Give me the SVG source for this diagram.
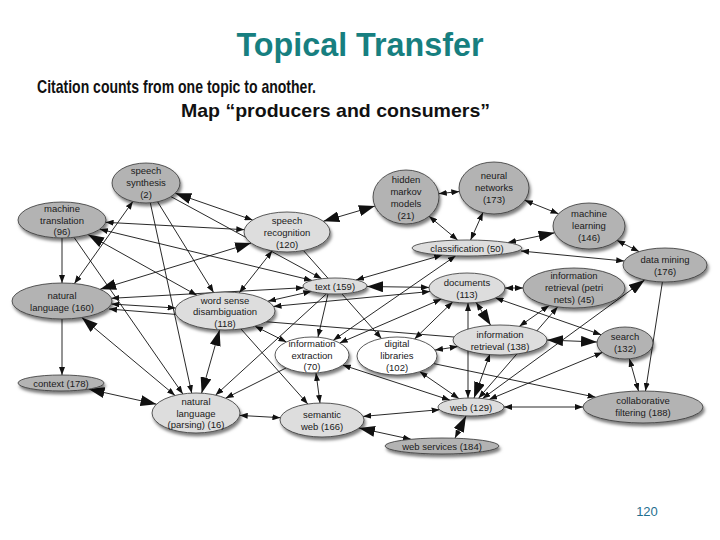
<svg xmlns="http://www.w3.org/2000/svg" width="720" height="540" viewBox="0 0 720 540">
<style>
.t{font-family:"Liberation Sans",Arial,sans-serif;font-size:9.5px;fill:#1a1a1a;text-anchor:middle}
.g{fill:#b3b3b3;stroke:#333;stroke-width:0.8;filter:url(#sh)}
.l{fill:#dddddd;stroke:#333;stroke-width:0.8;filter:url(#sh)}
.w{fill:#ffffff;stroke:#333;stroke-width:0.8;filter:url(#sh)}
#edges line{stroke:#111;stroke-width:0.9;fill:none}
.ss{marker-start:url(#a)}
.se{marker-end:url(#a)}
.bs{marker-start:url(#A)}
.be{marker-end:url(#A)}
</style>
<defs>
<filter id="sh" x="-20%" y="-30%" width="140%" height="170%"><feDropShadow dx="1.5" dy="3" stdDeviation="1.8" flood-color="#000" flood-opacity="0.5"/></filter>
<marker id="a" viewBox="0 0 8 6" refX="8" refY="3" markerWidth="8" markerHeight="6" markerUnits="userSpaceOnUse" orient="auto-start-reverse"><path d="M0,0L8,3L0,6z" fill="#111"/></marker>
<marker id="A" viewBox="0 0 16 11" refX="16" refY="5.5" markerWidth="16" markerHeight="11" markerUnits="userSpaceOnUse" orient="auto-start-reverse"><path d="M0,0L16,5.5L0,11z" fill="#111"/></marker>
</defs>
<rect width="720" height="540" fill="#fff"/>
<text x="360" y="56" font-family="Liberation Sans,Arial,sans-serif" font-size="33" font-weight="bold" fill="#177f80" text-anchor="middle" textLength="247" lengthAdjust="spacingAndGlyphs">Topical Transfer</text>
<text x="37" y="93" font-family="Liberation Sans,Arial,sans-serif" font-size="19" font-weight="bold" fill="#111" textLength="279" lengthAdjust="spacingAndGlyphs">Citation counts from one topic to another.</text>
<text x="181" y="117" font-family="Liberation Sans,Arial,sans-serif" font-size="19" font-weight="bold" fill="#111" textLength="309" lengthAdjust="spacingAndGlyphs">Map “producers and consumers”</text>
<text x="647" y="516" font-family="Liberation Sans,Arial,sans-serif" font-size="13" fill="#1f6f8f" text-anchor="middle">120</text>
<g id="edges">
<line class="ss se" x1="105.6" y1="222.3" x2="244.3" y2="229.7"/>
<line class="ss se" x1="99.9" y1="229.2" x2="312" y2="280.4"/>
<line class="bs se" x1="88" y1="234.5" x2="196.9" y2="295.3"/>
<line class="se" x1="62" y1="238" x2="62" y2="283"/>
<line class="se" x1="62" y1="319" x2="62" y2="375"/>
<line class="bs be" x1="100.1" y1="289.3" x2="251.1" y2="243"/>
<line class="bs se" x1="175.3" y1="193.2" x2="252.6" y2="220"/>
<line class="se" x1="157.6" y1="201.8" x2="213.6" y2="292.5"/>
<line class="ss se" x1="111.3" y1="304" x2="175.6" y2="308"/>
<line class="ss se" x1="111.4" y1="298.3" x2="303.7" y2="287.7"/>
<line class="ss" x1="109" y1="309" x2="454" y2="337"/>
<line class="ss se" x1="267.9" y1="301.2" x2="311.3" y2="291.4"/>
<line class="ss se" x1="273.5" y1="306.4" x2="430" y2="291.5"/>
<line class="ss se" x1="239.3" y1="292.8" x2="272.3" y2="250.8"/>
<line class="se" x1="170.9" y1="196.6" x2="321.7" y2="278.7"/>
<line class="bs be" x1="374.9" y1="206.1" x2="323.3" y2="221.3"/>
<line class="ss se" x1="438.8" y1="193.7" x2="459.3" y2="191.5"/>
<line class="ss se" x1="429.1" y1="216.3" x2="457.6" y2="240.1"/>
<line class="ss se" x1="482.9" y1="212.6" x2="470.6" y2="240"/>
<line class="ss se" x1="524.8" y1="200.3" x2="558.5" y2="213.8"/>
<line class="ss be" x1="508" y1="242.5" x2="554.6" y2="232.8"/>
<line class="ss se" x1="617.1" y1="240.4" x2="639" y2="251.6"/>
<line class="ss se" x1="521" y1="251" x2="624.2" y2="261"/>
<line class="ss se" x1="356" y1="280" x2="442.2" y2="255.1"/>
<line class="ss be" x1="429" y1="287.4" x2="367" y2="286.5"/>
<line class="ss se" x1="505" y1="288" x2="523" y2="288"/>
<line class="ss be" x1="476.2" y1="302.5" x2="490.7" y2="325.3"/>
<line class="ss se" x1="495.5" y1="297.9" x2="601.1" y2="334.7"/>
<line class="ss se" x1="468" y1="303" x2="468" y2="398"/>
<line class="ss se" x1="452.7" y1="301.9" x2="414.6" y2="338.9"/>
<line class="ss se" x1="333.3" y1="340.3" x2="455.7" y2="255.8"/>
<line class="ss se" x1="339.7" y1="343" x2="441.4" y2="299.1"/>
<line class="se" x1="328" y1="294" x2="318" y2="337"/>
<line class="se" x1="303.4" y1="250.5" x2="381.5" y2="338.5"/>
<line class="ss se" x1="549.1" y1="305.5" x2="519.4" y2="326.3"/>
<line class="bs be" x1="547" y1="340" x2="597" y2="342"/>
<line class="ss se" x1="435" y1="350.1" x2="457.7" y2="346.6"/>
<line class="ss be" x1="482.5" y1="398.6" x2="644.7" y2="279.9"/>
<line class="se" x1="662.4" y1="282" x2="645.5" y2="391"/>
<line class="ss se" x1="629.4" y1="358.8" x2="638.5" y2="391"/>
<line class="ss se" x1="602.4" y1="352.4" x2="489.1" y2="399.5"/>
<line class="ss se" x1="504" y1="407" x2="583" y2="407"/>
<line class="ss se" x1="439.6" y1="409.7" x2="363.1" y2="416.4"/>
<line class="bs se" x1="466" y1="416" x2="455" y2="438"/>
<line class="bs se" x1="359" y1="428" x2="411" y2="439.3"/>
<line class="ss se" x1="316" y1="373" x2="320" y2="403"/>
<line class="ss se" x1="280.4" y1="417.7" x2="239.7" y2="415.4"/>
<line class="ss se" x1="342.7" y1="365" x2="449.9" y2="400.1"/>
<line class="ss se" x1="419.7" y1="371.6" x2="458.9" y2="398.6"/>
<line class="se" x1="433.7" y1="363.6" x2="595.6" y2="397.2"/>
<line class="ss se" x1="557.6" y1="306.9" x2="478.6" y2="398.2"/>
<line class="ss be" x1="490" y1="354" x2="474" y2="398"/>
<line class="bs be" x1="201.6" y1="393.2" x2="219.6" y2="329.9"/>
<line class="ss be" x1="175" y1="395.4" x2="81.8" y2="317.5"/>
<line class="se" x1="74" y1="237.3" x2="182.8" y2="393.9"/>
<line class="se" x1="150.3" y1="202.8" x2="191.7" y2="393.1"/>
<line class="se" x1="326.6" y1="293.7" x2="215.6" y2="395.1"/>
<line class="se" x1="286.2" y1="367.9" x2="225.6" y2="398.2"/>
<line class="ss se" x1="132.9" y1="201.4" x2="74.4" y2="283.6"/>
<line class="ss se" x1="255" y1="326.2" x2="286.4" y2="342"/>
<line class="se" x1="241" y1="329" x2="307.8" y2="404"/>
<line class="bs be" x1="88.6" y1="389.1" x2="156.5" y2="404.2"/>
</g>
<g id="n-speech-synthesis"><ellipse class="g" cx="146" cy="183" rx="34" ry="20"/><text class="t" x="146" y="174">speech</text><text class="t" x="146" y="186">synthesis</text><text class="t" x="146" y="198">(2)</text></g>
<g id="n-machine-translation"><ellipse class="g" cx="62" cy="220" rx="44" ry="18"/><text class="t" x="62" y="212">machine</text><text class="t" x="62" y="223.5">translation</text><text class="t" x="62" y="235">(96)</text></g>
<g id="n-speech-recognition"><ellipse class="l" cx="287" cy="232" rx="43" ry="20"/><text class="t" x="287" y="224">speech</text><text class="t" x="287" y="236">recognition</text><text class="t" x="287" y="248">(120)</text></g>
<g id="n-hidden-markov"><ellipse class="g" cx="406" cy="197" rx="33" ry="27"/><text class="t" x="406" y="183">hidden</text><text class="t" x="406" y="195">markov</text><text class="t" x="406" y="207">models</text><text class="t" x="406" y="219">(21)</text></g>
<g id="n-neural-networks"><ellipse class="g" cx="494" cy="188" rx="35" ry="26"/><text class="t" x="494" y="179">neural</text><text class="t" x="494" y="191">networks</text><text class="t" x="494" y="203">(173)</text></g>
<g id="n-machine-learning"><ellipse class="g" cx="589" cy="226" rx="36" ry="23"/><text class="t" x="589" y="217">machine</text><text class="t" x="589" y="229">learning</text><text class="t" x="589" y="241">(146)</text></g>
<g id="n-classification"><ellipse class="l" cx="467" cy="248" rx="55" ry="8"/><text class="t" x="467" y="251.5">classification (50)</text></g>
<g id="n-data-mining"><ellipse class="g" cx="665" cy="265" rx="42" ry="17"/><text class="t" x="665" y="263">data mining</text><text class="t" x="665" y="275">(176)</text></g>
<g id="n-natural-language"><ellipse class="g" cx="62" cy="301" rx="50" ry="18"/><text class="t" x="62" y="299">natural</text><text class="t" x="62" y="311">language (160)</text></g>
<g id="n-word-sense"><ellipse class="l" cx="225" cy="311" rx="50" ry="19"/><text class="t" x="225" y="304">word sense</text><text class="t" x="225" y="315">disambiguation</text><text class="t" x="225" y="327">(118)</text></g>
<g id="n-text"><ellipse class="l" cx="335" cy="286" rx="32" ry="8"/><text class="t" x="335" y="289.5">text (159)</text></g>
<g id="n-documents"><ellipse class="l" cx="467" cy="288" rx="38" ry="15"/><text class="t" x="467" y="286">documents</text><text class="t" x="467" y="298">(113)</text></g>
<g id="n-ir-petri"><ellipse class="g" cx="574" cy="288" rx="51" ry="20"/><text class="t" x="574" y="279">information</text><text class="t" x="574" y="291">retrieval (petri</text><text class="t" x="574" y="303">nets) (45)</text></g>
<g id="n-information-extraction"><ellipse class="w" cx="312" cy="355" rx="37" ry="18"/><text class="t" x="312" y="347">information</text><text class="t" x="312" y="359">extraction</text><text class="t" x="312" y="370">(70)</text></g>
<g id="n-digital-libraries"><ellipse class="w" cx="397" cy="356" rx="40" ry="19"/><text class="t" x="397" y="347">digital</text><text class="t" x="397" y="359">libraries</text><text class="t" x="397" y="371">(102)</text></g>
<g id="n-information-retrieval"><ellipse class="l" cx="500" cy="340" rx="47" ry="15"/><text class="t" x="500" y="338">information</text><text class="t" x="500" y="350">retrieval (138)</text></g>
<g id="n-search"><ellipse class="g" cx="625" cy="343" rx="28" ry="16"/><text class="t" x="625" y="340">search</text><text class="t" x="625" y="352">(132)</text></g>
<g id="n-context"><ellipse class="g" cx="61" cy="383" rx="43" ry="8"/><text class="t" x="61" y="386.5">context (178)</text></g>
<g id="n-nl-parsing"><ellipse class="l" cx="196" cy="413" rx="44" ry="20"/><text class="t" x="196" y="405">natural</text><text class="t" x="196" y="417">language</text><text class="t" x="196" y="428">(parsing) (16)</text></g>
<g id="n-semantic-web"><ellipse class="l" cx="322" cy="420" rx="42" ry="17"/><text class="t" x="322" y="418">semantic</text><text class="t" x="322" y="430">web (166)</text></g>
<g id="n-web"><ellipse class="l" cx="471" cy="407" rx="33" ry="9"/><text class="t" x="471" y="410.5">web (129)</text></g>
<g id="n-web-services"><ellipse class="g" cx="442" cy="446" rx="57" ry="8"/><text class="t" x="442" y="449.5">web services (184)</text></g>
<g id="n-collaborative-filtering"><ellipse class="g" cx="643" cy="407" rx="60" ry="16"/><text class="t" x="643" y="404">collaborative</text><text class="t" x="643" y="416">filtering (188)</text></g>
</svg>
